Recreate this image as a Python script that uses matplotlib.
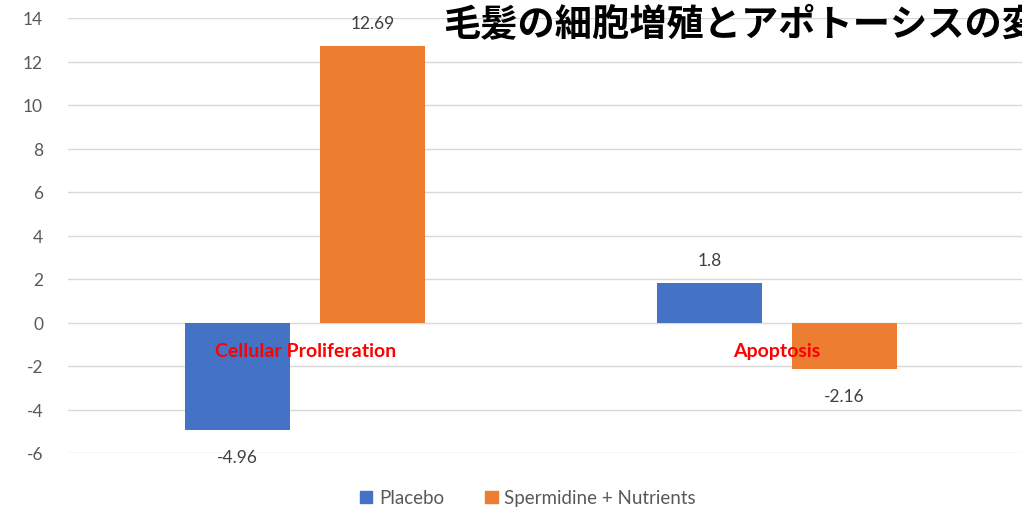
import numpy as np
import matplotlib
matplotlib.use("Agg")
import matplotlib.pyplot as plt
from matplotlib.patches import Patch

# Data
categories = ["Cellular Proliferation", "Apoptosis"]
placebo = [-4.96, 1.8]
spermidine = [12.69, -2.16]
series_names = ["Placebo", "Spermidine + Nutrients"]
title = "毛髪の細胞増殖とアポトーシスの変化"

blue = "#4472C4"
orange = "#ED7D31"
grey_text = "#595959"

plt.rcParams['font.family'] = ['Lato', 'DejaVu Sans']
plt.rcParams['axes.unicode_minus'] = False

fig = plt.figure(figsize=(10.22, 5.10), dpi=100)
ax = fig.add_axes([68 / 1022, 1 - 454 / 510, 1 - 68 / 1022, (454 - 19) / 510])

x = np.arange(len(categories))
w = 0.223
off = 0.143
b1 = ax.bar(x - off, placebo, w, color=blue, zorder=3)
b2 = ax.bar(x + off, spermidine, w, color=orange, zorder=3)

# value labels
for bars, vals in [(b1, placebo), (b2, spermidine)]:
    for rect, v in zip(bars, vals):
        cx = rect.get_x() + rect.get_width() / 2
        dy = 17 if v >= 0 else -19
        ax.annotate(f"{v:g}", (cx, v), xytext=(0, dy), textcoords="offset points",
                    ha="center", va="center", fontsize=12.5, color="#404040")

# category labels in red, near the zero line
for xi, name in zip(x, categories):
    ax.text(xi, -1.3, name, ha="center", va="center", color="red",
            fontsize=14, fontweight="bold", zorder=4)

ax.set_xlim(-0.503, 1.52)
ax.set_ylim(-6, 14)
ax.set_yticks(np.arange(-6, 15, 2))
ax.set_xticks([])
ax.grid(axis="y", color="#D9D9D9", linewidth=1, zorder=0)
for s in ax.spines.values():
    s.set_visible(False)
ax.tick_params(axis="y", length=0, labelsize=12.5, labelcolor=grey_text, pad=18)

# title, runs off the right edge like the original
fig.text(443 / 1022, 1 - 25 / 510, title, ha="left", va="center", fontsize=26.8,
         fontweight="bold", color="black",
         family=['Noto Sans CJK JP', 'DejaVu Sans'])

handles = [Patch(color=blue), Patch(color=orange)]
fig.legend(handles, series_names, loc="center", bbox_to_anchor=(528 / 1022, 1 - 499 / 510),
           ncol=2, frameon=False, fontsize=13.5, handlelength=0.65, handleheight=0.65,
           handletextpad=0.35, columnspacing=2.2, labelcolor=grey_text)

fig.savefig("out.png", dpi=100)
